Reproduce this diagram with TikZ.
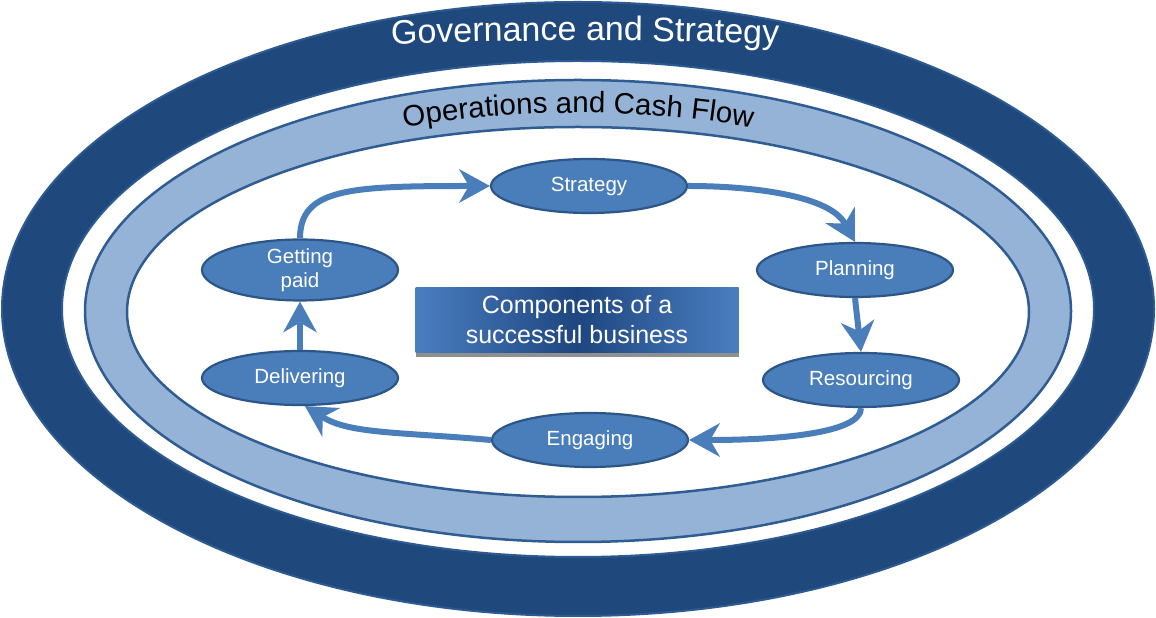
\documentclass[tikz,border=0pt]{standalone}
\usepackage{fontspec}
\setmainfont{Liberation Sans}
\usepackage{xcolor}
\usetikzlibrary{shapes.geometric,arrows.meta,decorations.text,shadows}
\definecolor{govblue}{HTML}{1F497D}
\definecolor{govedge}{HTML}{2E5A92}
\definecolor{opsblue}{HTML}{95B3D7}
\definecolor{opsedge}{HTML}{2F5C93}
\definecolor{stagefill}{HTML}{4A7EBB}
\definecolor{stageline}{HTML}{2C5688}
\definecolor{hubdark}{HTML}{1E4680}
\definecolor{hublight}{HTML}{4A7EC0}
\tikzset{
	stage/.style={ellipse,draw=stageline,fill=stagefill,line width=2.2pt,minimum width=196pt,minimum height=54pt,inner sep=0pt,text=white,align=center,font=\fontsize{20.5}{24}\selectfont},
	hub/.style={rectangle,left color=hublight,right color=hublight,middle color=hubdark,minimum width=323pt,minimum height=65pt,text=white,align=center,font=\fontsize{25}{30}\selectfont,drop shadow={shadow xshift=0pt,shadow yshift=-5pt,fill=black!80,opacity=.55}},
	flow/.style={draw=stagefill,line width=6pt,-{Stealth[length=31pt,width=34pt,inset=10pt,line width=0pt]}}
}
\begin{document}
\begin{tikzpicture}[x=1pt,y=1pt]
		\useasboundingbox[fill=white] (0,0) rectangle (1156,618);
		%外环
		\filldraw[fill=govblue,draw=govedge,line width=2pt] (578,309) ellipse[x radius=576,y radius=307];
		\filldraw[fill=white,draw=govedge,line width=2pt] (578,309) ellipse[x radius=516,y radius=248];
		\filldraw[fill=opsblue,draw=opsedge,line width=2.5pt] (578,307) ellipse[x radius=493,y radius=231];
		\filldraw[fill=white,draw=opsedge,line width=2.5pt] (578,306) ellipse[x radius=451,y radius=185];
		\path[decorate,decoration={text along path,text align=center,text={|\color{white}\fontsize{34}{38}\selectfont|Governance and Strategy}}] (370,573) to[bend left=2] (800,573);
		\path[decorate,decoration={text along path,text align=center,text={|\fontsize{29.5}{32}\selectfont|Operations and Cash Flow}}] (578,307) ++(150:462 and 198) arc[start angle=150,end angle=30,x radius=462,y radius=198];
		%环节
		\node[stage] (st) at (589,432) {Strategy};
		\node[stage] (pl) at (855,348) {Planning};
		\node[stage] (rs) at (861,238) {Resourcing};
		\node[stage] (en) at (590,178) {Engaging};
		\node[stage] (dl) at (300,240) {Delivering};
		\node[stage] (gp) at (300,348) {Getting\\paid};
		\node[hub] (core) at (577,298) {Components of a\\successful business};
		%箭头
		\draw[flow] (gp.north) .. controls +(0,50) and +(-140,0) .. (st.west);
		\draw[flow] (st.east) .. controls +(70,0) and +(-25,45) .. (pl.north);
		\draw[flow] (pl.south) -- (rs.north);
		\draw[flow] (rs.south) .. controls +(0,-25) and +(90,0) .. (en.east);
		\draw[flow] (en.west) .. controls +(-90,8) and +(45,-28) .. (dl.-80);
		\draw[flow] (dl.north) -- (gp.south);
	\end{tikzpicture}
\end{document}
